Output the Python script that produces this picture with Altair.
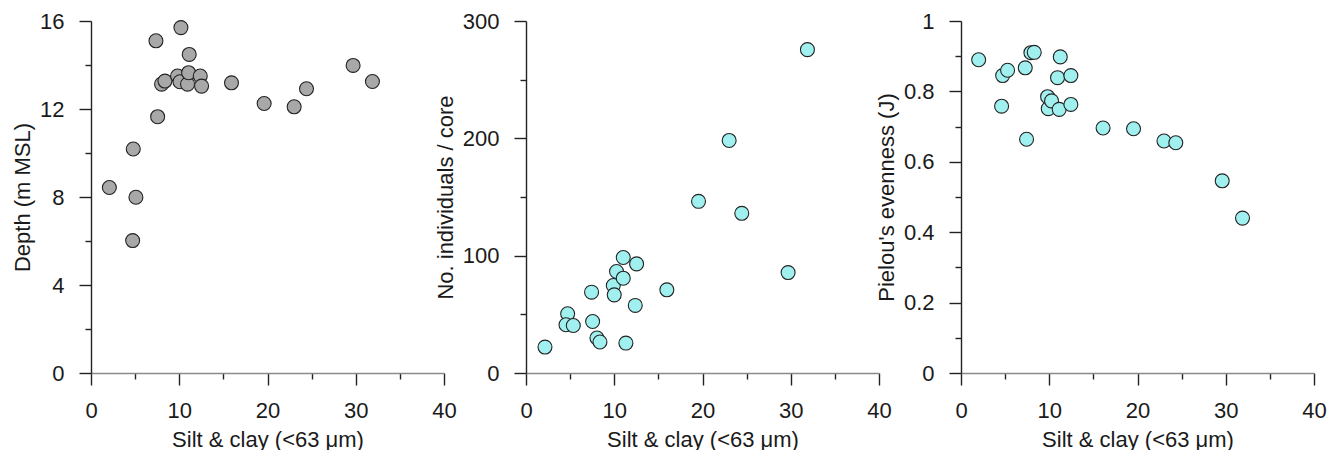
import altair as alt
import pandas as pd

# ---- data ----
depth_x = [2.08, 4.79, 5.09, 4.72, 7.36, 7.55, 8.0, 8.38, 9.81, 10.08, 10.19,
           10.94, 11.06, 11.13, 12.38, 12.53, 15.92, 19.62, 23.02, 24.42, 29.7, 31.89]
depth_y = [8.43, 10.18, 7.99, 6.02, 15.1, 11.65, 13.13, 13.27, 13.5, 13.24, 15.7,
           13.13, 13.65, 14.48, 13.5, 13.04, 13.19, 12.25, 12.1, 12.92, 13.98, 13.25]

indiv_x = [2.15, 4.72, 4.53, 5.36, 7.43, 7.55, 8.04, 8.38, 9.89, 10.0, 10.26,
           11.02, 11.02, 11.32, 12.53, 12.38, 15.96, 19.55, 23.02, 24.45, 29.7, 31.89]
indiv_y = [22.1, 50.5, 41.1, 40.5, 68.9, 43.9, 29.8, 26.4, 74.6, 66.6, 86.5,
           80.8, 98.4, 25.5, 93.0, 57.6, 70.9, 146.3, 198.2, 136.1, 85.6, 275.6]

even_x = [2.0, 4.6, 4.72, 5.28, 7.28, 7.43, 7.92, 8.3, 9.81, 9.89, 10.26,
          10.94, 11.13, 11.25, 12.45, 12.45, 16.1, 19.55, 23.0, 24.34, 29.6, 31.9]
even_y = [0.890, 0.758, 0.845, 0.860, 0.867, 0.664, 0.910, 0.911, 0.785, 0.751, 0.773,
          0.839, 0.749, 0.898, 0.845, 0.763, 0.696, 0.694, 0.659, 0.654, 0.546, 0.440]

x_title = "Silt & clay (<63 μm)"
x_ticks = [0, 5, 10, 15, 20, 25, 30, 35, 40]

FONT = "Liberation Sans"
TXT = "#1a1a1a"


def panel(xs, ys, ytitle, ymax, yticks, major_test, fill):
    df = pd.DataFrame({"x": xs, "y": ys})
    xaxis = alt.Axis(
        values=x_ticks, format="~r", title=x_title,
        labelExpr="datum.value % 10 === 0 ? datum.label : ''",
        tickSize={"condition": {"test": "datum.value % 10 === 0", "value": 12}, "value": 6},
        labelPadding=15, titlePadding=8, labelFlush=False, labelOverlap=False,
        domainColor="#8a8a8a", domainWidth=1.6, tickColor="#222", tickWidth=1.4,
        grid=False,
    )
    yaxis = alt.Axis(
        values=yticks, format="~r", title=ytitle,
        labelExpr=f"({major_test}) ? datum.label : ''",
        tickSize={"condition": {"test": major_test, "value": 12}, "value": 6},
        labelPadding=15, titlePadding=5, labelFlush=False, labelOverlap=False,
        domainColor="#222", domainWidth=1.4, tickColor="#222", tickWidth=1.4,
        grid=False,
    )
    return alt.Chart(df).mark_circle(
        size=195, opacity=1, fill=fill, stroke="#222222", strokeWidth=1.1
    ).encode(
        x=alt.X("x:Q", scale=alt.Scale(domain=[0, 40], nice=False, zero=False), axis=xaxis),
        y=alt.Y("y:Q", scale=alt.Scale(domain=[0, ymax], nice=False, zero=False), axis=yaxis),
    ).properties(width=353, height=352)


p1 = panel(depth_x, depth_y, "Depth (m MSL)", 16, list(range(0, 17, 2)),
           "datum.value % 4 === 0", "#a8a8a8")
p2 = panel(indiv_x, indiv_y, "No. individuals / core", 300, list(range(0, 301, 50)),
           "datum.value % 100 === 0", "#a0f0f0")
p3 = panel(even_x, even_y, "Pielou's evenness (J)", 1,
           [0, 0.1, 0.2, 0.3, 0.4, 0.5, 0.6, 0.7, 0.8, 0.9, 1.0],
           "round(datum.value * 10) % 2 === 0", "#a0f0f0")

chart = alt.HConcatChart(hconcat=[p1, p2, p3], spacing=82, bounds="flush").properties(
    padding={"left": 11, "top": 10, "right": 5, "bottom": 0},
    background="white",
).configure_view(stroke=None).configure_axis(
    labelFont=FONT, titleFont=FONT, labelFontSize=22, titleFontSize=22,
    labelColor=TXT, titleColor=TXT, titleFontWeight="normal",
)

chart.save("out.html", embed_options={"renderer": "svg", "actions": False})
